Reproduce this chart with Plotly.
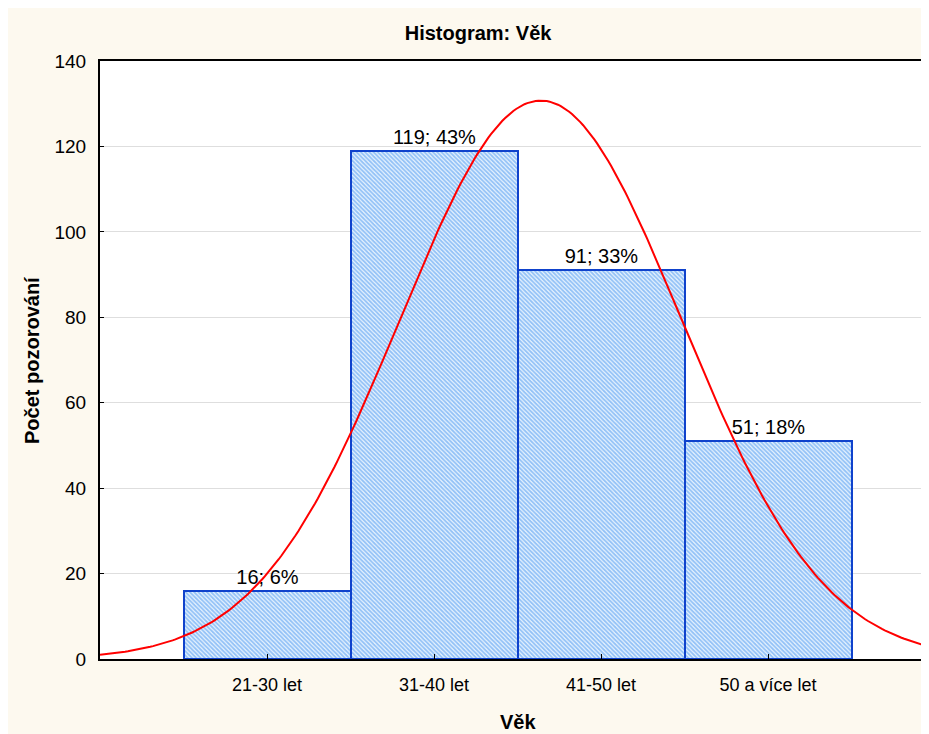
import numpy as np
import plotly.graph_objects as go

kategorie = ['21-30 let', '31-40 let', '41-50 let', '50 a více let']
pocty = [16, 119, 91, 51]

n = sum(pocty)
pozice = list(range(len(kategorie)))
popisky = ['{}; {:.0f}%'.format(p, 100 * p / n) for p in pocty]

# proložená normální křivka (kódy kategorií, šířka třídy = 1)
prumer = sum(i * p for i, p in zip(pozice, pocty)) / n
sd = np.sqrt(sum(p * (i - prumer) ** 2 for i, p in zip(pozice, pocty)) / n)
xk = np.linspace(-1, 4, 300)
yk = n / (sd * np.sqrt(2 * np.pi)) * np.exp(-0.5 * ((xk - prumer) / sd) ** 2)

pismo = 'Liberation Sans, Arial'

fig = go.Figure()
fig.add_trace(go.Bar(
    x=pozice, y=pocty, width=1,
    text=popisky, textposition='outside', cliponaxis=False,
    textfont=dict(size=20, color='black', family=pismo),
    marker=dict(
        color='#ffffff',
        line=dict(color='#0f42cc', width=2),
        pattern=dict(shape='\\', fgcolor='#3a8ef0', bgcolor='#eaf4fe', size=3, solidity=0.6),
    ),
    showlegend=False,
))
fig.add_trace(go.Scatter(x=xk, y=yk, mode='lines', line=dict(color='#ff0000', width=2),
                         showlegend=False, hoverinfo='skip'))

fig.add_annotation(text='<b>Věk</b>', xref='paper', yref='paper', x=0.5, y=-0.105,
                   xanchor='center', yanchor='middle', showarrow=False,
                   font=dict(size=20, family=pismo))
fig.add_annotation(text='<b>Počet pozorování</b>', xref='paper', yref='paper', x=-0.0814, y=0.5,
                   xanchor='center', yanchor='middle', showarrow=False, textangle=-90,
                   font=dict(size=20, family=pismo))

fig.update_layout(
    width=929, height=734,
    margin=dict(l=92, r=2, t=53, b=83),
    paper_bgcolor='#fdf9ef', plot_bgcolor='white',
    font=dict(family=pismo, size=18, color='black'),
    title=dict(text='<b>Histogram: Věk</b>', x=0.506, xref='container', xanchor='center',
               y=1 - 25 / 734, yref='container', yanchor='middle', font=dict(size=20)),
    bargap=0,
)
fig.update_xaxes(range=[-1, 4], tickvals=pozice, ticktext=kategorie, automargin=False,
                 showline=True, linecolor='black', linewidth=2, mirror=True,
                 ticks='inside', ticklen=5, tickcolor='black', showgrid=False, zeroline=False,
                 ticklabelstandoff=8)
fig.update_yaxes(range=[0, 140], dtick=20, automargin=False,
                 showline=True, linecolor='black', linewidth=2,
                 ticks='inside', ticklen=4, tickcolor='black', showgrid=True, gridcolor='#dedede',
                 zeroline=False, ticklabelstandoff=8, tickfont=dict(size=19))

fig.write_html('out.html')
